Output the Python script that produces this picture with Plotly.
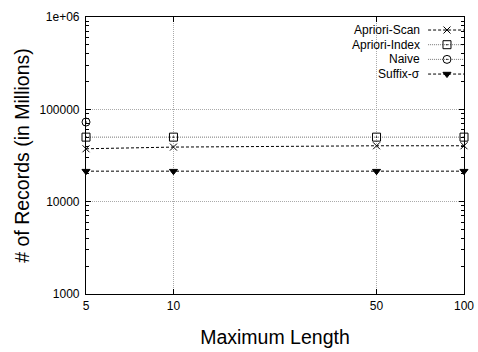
import plotly.graph_objects as go

# Maximum sequence length on the x axis
max_length = [5, 10, 50, 100]

# Number of records (in millions) per method
apriori_scan = [37400, 39000, 40300, 40300]
apriori_index = [50000, 50000, 50000, 50000]
naive_len = [5]
naive = [72800]
suffix_sigma = [21400, 21400, 21400, 21400]

y_tick_vals = [1000, 10000, 100000, 1000000]
y_tick_text = ["1000", "10000", "100000", "1e+06"]
x_tick_vals = [5, 10, 50, 100]
x_tick_text = ["5", "10", "50", "100"]

series = [
    dict(name="Apriori-Scan", x=max_length, y=apriori_scan, symbol="x-thin-open",
         size=7, dash="3px,2px", lcolor="black"),
    dict(name="Apriori-Index", x=max_length, y=apriori_index, symbol="square-open-dot",
         size=8, dash="1px,1px", lcolor="#777777"),
    dict(name="Naive", x=naive_len, y=naive, symbol="circle-open-dot",
         size=8, dash="1px,1px", lcolor="#777777"),
    dict(name="Suffix-σ", x=max_length, y=suffix_sigma, symbol="triangle-down",
         size=7, dash="3px,2px", lcolor="black"),
]

FONT = "Liberation Sans, Arial, sans-serif"
fig = go.Figure()

for s in series:
    fig.add_trace(go.Scatter(
        x=s["x"], y=s["y"], mode="lines+markers", name=s["name"],
        line=dict(color=s["lcolor"], width=1, dash=s["dash"]),
        marker=dict(symbol=s["symbol"], size=s["size"], color="black",
                    line=dict(color="black", width=1)),
        showlegend=False, cliponaxis=False,
    ))

# Gnuplot-style key: label on the left, line sample with marker on the right
key_top = 0.953
key_step = 0.053
for i, s in enumerate(series):
    ky = key_top - i * key_step
    fig.add_trace(go.Scatter(
        x=[0.905, 0.955, 1.0], y=[ky, ky, ky], xaxis="x2", yaxis="y2",
        mode="lines", line=dict(color=s["lcolor"], width=1, dash=s["dash"]),
        showlegend=False, hoverinfo="skip",
    ))
    fig.add_trace(go.Scatter(
        x=[0.955], y=[ky], xaxis="x2", yaxis="y2", mode="markers",
        marker=dict(symbol=s["symbol"], size=s["size"], color="black",
                    line=dict(color="black", width=1)),
        showlegend=False, hoverinfo="skip",
    ))
    fig.add_annotation(
        x=0.89, y=ky, xref="x2", yref="y2", text=s["name"], showarrow=False,
        xanchor="right", yanchor="middle",
        font=dict(family=FONT, size=12, color="black"),
    )

fig.update_layout(
    width=478, height=352,
    margin=dict(l=86, r=14, t=17, b=58),
    paper_bgcolor="white", plot_bgcolor="white",
    font=dict(family=FONT, size=12, color="black"),
    xaxis=dict(
        type="log", range=[0.69897, 2.0], automargin=False,
        tickvals=x_tick_vals, ticktext=x_tick_text,
        ticks="inside", ticklen=5, tickcolor="black",
        showline=True, linecolor="black", linewidth=1.2, mirror="allticks",
        showgrid=True, gridcolor="#aaaaaa", griddash="1px,1px", gridwidth=1,
        zeroline=False,
        title=dict(text="Maximum Length", font=dict(family=FONT, size=19.5), standoff=18),
    ),
    yaxis=dict(
        type="log", range=[3, 6], automargin=False,
        tickvals=y_tick_vals, ticktext=y_tick_text, ticklabelstandoff=3,
        ticks="inside", ticklen=5, tickcolor="black",
        minor=dict(ticks="inside", ticklen=3, tickcolor="black", showgrid=False,
                   tickvals=[m * 10 ** e for e in range(3, 6) for m in range(2, 10)]),
        showline=True, linecolor="black", linewidth=1.2, mirror="allticks",
        showgrid=True, gridcolor="#aaaaaa", griddash="1px,1px", gridwidth=1,
        zeroline=False,
        title=dict(text="# of Records (in Millions)", font=dict(family=FONT, size=19.5), standoff=4),
    ),
    xaxis2=dict(overlaying="x", range=[0, 1], visible=False, fixedrange=True),
    yaxis2=dict(overlaying="y", range=[0, 1], visible=False, fixedrange=True),
)

fig.write_html("out.html")
